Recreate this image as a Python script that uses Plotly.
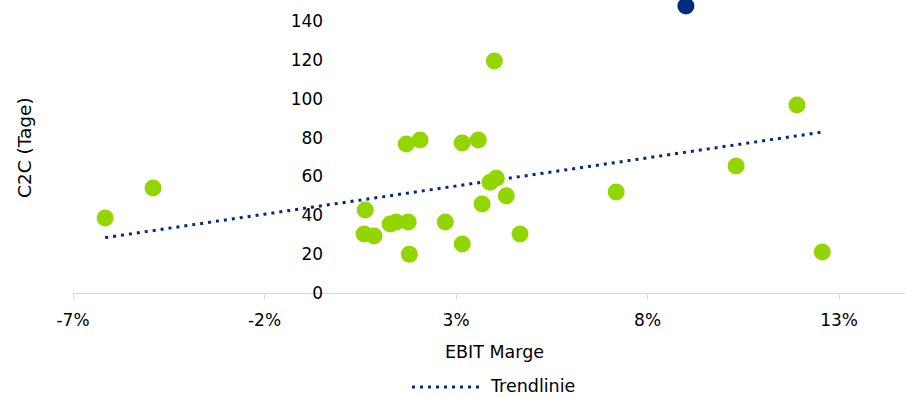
import plotly.graph_objects as go

# EBIT margin (fraction) and cash-to-cash cycle (days) per company
ebit_margin = [-0.0616, -0.0491, 0.0063, 0.0060, 0.0086, 0.0128, 0.0144, 0.0175,
               0.0170, 0.0206, 0.0178, 0.0272, 0.0316, 0.0358, 0.0316, 0.0368,
               0.0389, 0.0405, 0.0400, 0.0431, 0.0467, 0.0718, 0.1031, 0.1190,
               0.1256]
c2c_days = [38.6, 54.0, 42.7, 30.4, 29.3, 35.5, 36.5, 36.5,
            76.7, 78.7, 20.0, 36.5, 77.2, 78.7, 25.2, 45.8,
            57.0, 59.0, 119.4, 50.0, 30.4, 52.0, 65.4, 96.8,
            21.1]

# highlighted company
focus_margin = [0.0900]
focus_days = [147.7]

# linear trend line (start and end of the fitted line)
trend_margin = [-0.0616, 0.1256]
trend_days = [28.5, 82.8]

x_ticks = [-0.07, -0.02, 0.03, 0.08, 0.13]
x_tick_text = ["-7%", "-2%", "3%", "8%", "13%"]
y_ticks = [0, 20, 40, 60, 80, 100, 120, 140]

GREEN = "#93D500"
NAVY = "#002A7A"
FONT = "DejaVu Sans, Verdana, sans-serif"
FS = 17

x_range = [-0.07, 0.1472]
y_range = [0, 150.8]
y_axis_pos = (0 - x_range[0]) / (x_range[1] - x_range[0])

# plot area in pixels: left 73, right 905, top 0, bottom 293
PL, PR, PT, PB = 73, 905, 0, 293


def px_x(px):
    return (px - PL) / (PR - PL)


def px_y(py):
    return (PB - py) / (PB - PT)


fig = go.Figure()
fig.add_trace(go.Scatter(
    x=trend_margin, y=trend_days, mode="lines",
    line=dict(color=NAVY, width=3, dash="3px,5px"),
    showlegend=False, hoverinfo="skip",
))
fig.add_trace(go.Scatter(
    x=ebit_margin, y=c2c_days, mode="markers",
    marker=dict(color=GREEN, size=17, line=dict(width=0)),
    showlegend=False,
))
fig.add_trace(go.Scatter(
    x=focus_margin, y=focus_days, mode="markers",
    marker=dict(color=NAVY, size=17, line=dict(width=0)),
    showlegend=False,
))

# legend entry for the trend line
fig.add_shape(type="line", xref="paper", yref="paper",
              x0=px_x(412), x1=px_x(482), y0=px_y(387), y1=px_y(387),
              line=dict(color=NAVY, width=3, dash="3px,5px"))
fig.add_annotation(text="Trendlinie", xref="paper", yref="paper",
                   x=px_x(488), y=px_y(386),
                   xanchor="left", yanchor="middle", showarrow=False,
                   font=dict(family=FONT, size=FS + 0.5, color="#000000"))

# axis titles
fig.add_annotation(text="C2C (Tage)", xref="paper", yref="paper",
                   x=px_x(24), y=px_y(148), textangle=-90,
                   xanchor="center", yanchor="middle", showarrow=False,
                   font=dict(family=FONT, size=18.5, color="#000000"))
fig.add_annotation(text="EBIT Marge", xref="paper", yref="paper",
                   x=px_x(494), y=px_y(352),
                   xanchor="center", yanchor="middle", showarrow=False,
                   font=dict(family=FONT, size=FS + 0.5, color="#000000"))

fig.update_layout(
    width=905, height=398,
    margin=dict(l=PL, r=905 - PR, t=PT, b=398 - PB),
    paper_bgcolor="white", plot_bgcolor="white",
    font=dict(family=FONT, size=FS, color="#000000"),
    xaxis=dict(range=x_range, tickvals=x_ticks, ticktext=x_tick_text,
               showgrid=False, zeroline=False, showline=True,
               linecolor="#D9D9D9", linewidth=1, ticks="outside",
               ticklen=5, tickcolor="#D9D9D9", ticklabelstandoff=7,
               fixedrange=True),
    yaxis=dict(range=y_range, tickvals=y_ticks, showgrid=False,
               zeroline=False, showline=False, ticks="",
               anchor="free", position=y_axis_pos,
               ticklabelstandoff=18, fixedrange=True),
)

fig.write_html("out.html")
